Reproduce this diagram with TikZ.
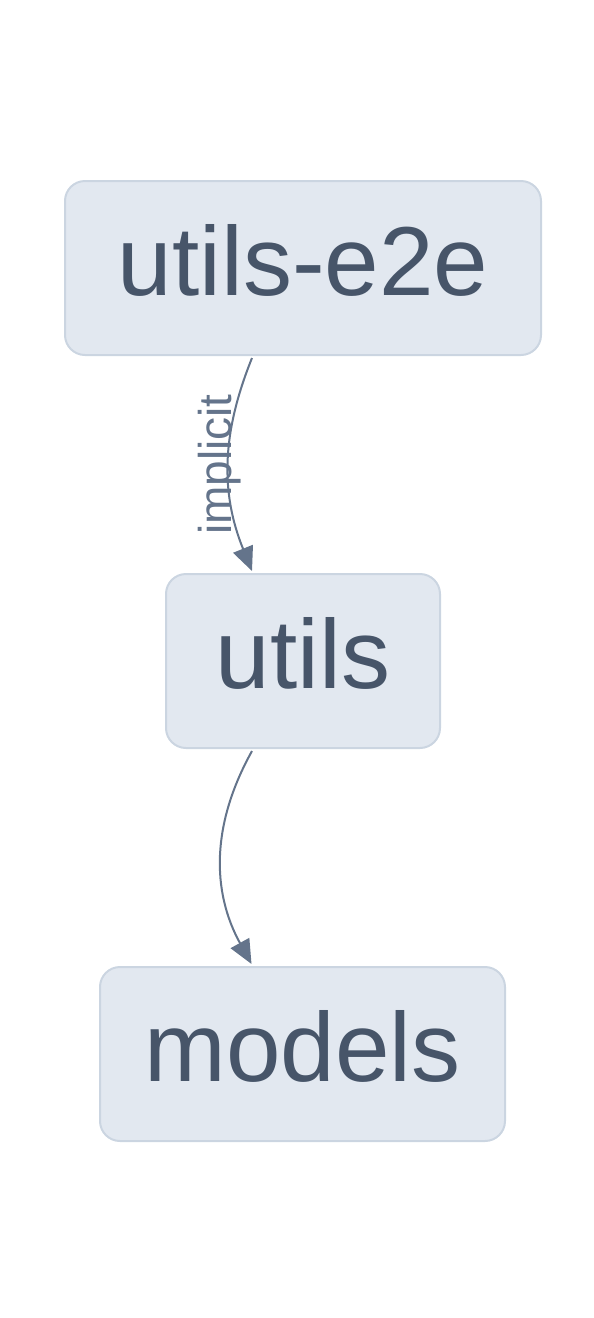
\documentclass[tikz,border=0pt]{standalone}
\usepackage{fontspec}
\setmainfont{Liberation Sans}
\usetikzlibrary{arrows.meta}
\definecolor{boxfill}{HTML}{E2E8F0}
\definecolor{boxline}{HTML}{CBD5E1}
\definecolor{boxtext}{HTML}{475569}
\definecolor{edgeline}{HTML}{64748B}
\begin{document}
\begin{tikzpicture}[x=0.5pt,y=-0.5pt,
  pkg/.style={draw=boxline,fill=boxfill,line width=1pt,rounded corners=10pt,
    minimum height=87pt,inner sep=0pt,text depth=8pt,text=boxtext,
    font=\fontsize{49}{55}\selectfont},
  dep/.style={draw=edgeline,line width=1pt,-{Triangle[length=12pt,width=10.5pt]}},
  lbl/.style={text=edgeline,font=\fontsize{23}{25}\selectfont,inner sep=0pt}]
\useasboundingbox (0,0) rectangle (594,1318);
\node[pkg,minimum width=238pt] (e2e) at (303,268) {utils-e2e};
\node[pkg,minimum width=137pt] (utils) at (303,661) {utils};
\node[pkg,minimum width=202.5pt] (models) at (302.5,1054) {models};
\draw[dep] ([xshift=-25.5pt,yshift=-1pt]e2e.south) to[bend right=22]
  node[lbl,midway,xshift=-4.5pt,rotate=90] {implicit}
  ([xshift=-25.5pt,yshift=1pt]utils.north);
\draw[dep] ([xshift=-25.5pt,yshift=-1pt]utils.south) to[bend right=29]
  ([xshift=-25.5pt,yshift=1pt]models.north);
\end{tikzpicture}
\end{document}
